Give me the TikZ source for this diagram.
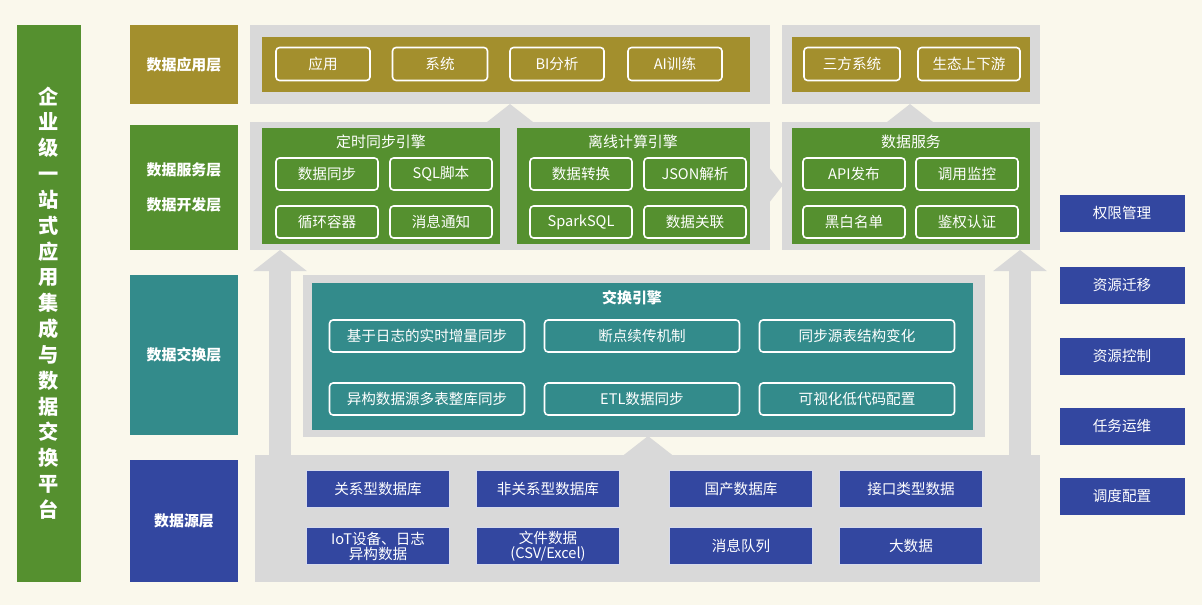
\documentclass[tikz,border=0pt]{standalone}
\usepackage{fontspec}
\setmainfont{Noto Sans CJK SC}
\usetikzlibrary{arrows.meta}
\definecolor{bgcream}{HTML}{FAF8EC}
\definecolor{lgreen}{HTML}{55902F}
\definecolor{lolive}{HTML}{A38F2D}
\definecolor{lteal}{HTML}{338B8B}
\definecolor{lblue}{HTML}{3347A0}
\definecolor{pgray}{HTML}{D9D9D9}
\tikzset{
  layer/.style={text=white, font=\bfseries\fontsize{8.5}{13}\selectfont, align=center, inner sep=0pt},
  item/.style={draw=white, rounded corners=2pt, line width=0.9pt, text=white,
    font=\fontsize{8.3}{9}\selectfont, inner sep=0pt, align=center},
  src/.style={fill=lblue, draw=white!80!lblue, line width=0.6pt, text=white,
    font=\fontsize{8.3}{8.5}\selectfont, inner sep=0pt, align=center},
  title/.style={text=white, font=\fontsize{8.5}{9}\selectfont, inner sep=0pt},
  bigarrow/.style={draw=pgray, line width=13pt, -{Triangle[width=30pt,length=12pt]}},
}
\begin{document}
\begin{tikzpicture}[x=0.02cm, y=-0.02cm]
\useasboundingbox (0,0) rectangle (1202,605);
\fill[bgcream] (0,0) rectangle (1202,605);
% left title bar
\fill[lgreen] (17,25) rectangle (81,582);
\node (platform) at (49,303) [text=white, font=\bfseries\fontsize{11.5}{14.7}\selectfont, align=center, inner sep=0pt]
  {企\\业\\级\\一\\站\\式\\应\\用\\集\\成\\与\\数\\据\\交\\换\\平\\台};
% layer labels
\fill[lolive] (130,25) rectangle (238,104);
\node (l-app) at (184,65) [layer] {数据应用层};
\fill[lgreen] (130,125) rectangle (238,250);
\node (l-svc) at (184,187) [layer] {数据服务层\\[7pt]数据开发层};
\fill[lteal] (130,275) rectangle (238,435);
\node (l-ex) at (184,355) [layer] {数据交换层};
\fill[lblue] (130,460) rectangle (238,582);
\node (l-src) at (184,521) [layer] {数据源层};
% arrows
\coordinate (a-src-l) at (280,460);
\coordinate (a-svc-l) at (280,250);
\coordinate (a-src-r) at (1020,460);
\coordinate (a-svc-r) at (1020,250);
\coordinate (a-src-c) at (648,460);
\coordinate (a-ex-c) at (648,436);
\coordinate (a-svc-c) at (510,124);
\coordinate (a-app-c) at (510,104);
\coordinate (a-svc-rr) at (910,124);
\coordinate (a-app-r) at (910,104);
\coordinate (a-mid-l) at (748,185);
\coordinate (a-mid-r) at (783,185);
\draw[bigarrow] (a-src-l) -- (a-svc-l);
\draw[bigarrow] (a-src-r) -- (a-svc-r);
\draw[bigarrow] (a-src-c) -- (a-ex-c);
\draw[bigarrow] (a-svc-c) -- (a-app-c);
\draw[bigarrow] (a-svc-rr) -- (a-app-r);
\draw[bigarrow] (a-mid-l) -- (a-mid-r);
% application layer
\fill[pgray] (250,25) rectangle (770,104);
\fill[lolive] (262,37) rectangle (750,92);
\fill[pgray] (782,25) rectangle (1040,104);
\fill[lolive] (792,37) rectangle (1030,92);
\foreach \name/\x/\w/\txt in {app1/323/94/应用, app2/440/95/系统, app3/557/94/BI分析, app4/675/94/AI训练,
    app5/852/96/三方系统, app6/969/102/生态上下游}
  \node (\name) at (\x,64) [item, minimum width=\w*0.02cm, minimum height=0.66cm] {\txt};
% service layer
\fill[pgray] (250,122) rectangle (770,250);
\fill[lgreen] (262,128) rectangle (500,244);
\fill[lgreen] (517,128) rectangle (750,244);
\fill[pgray] (782,122) rectangle (1040,250);
\fill[lgreen] (792,128) rectangle (1030,244);
\node (t-sync) at (381,142) [title] {定时同步引擎};
\node (t-off) at (633,142) [title] {离线计算引擎};
\node (t-data) at (911,142) [title] {数据服务};
\foreach \name/\x/\y/\txt in {s1/327/174/数据同步, s2/441/174/SQL脚本, s3/327/222/循环容器, s4/441/222/消息通知,
    s5/581/174/数据转换, s6/695/174/JSON解析, s7/581/222/SparkSQL, s8/695/222/数据关联,
    s9/854/174/API发布, s10/967/174/调用监控, s11/854/222/黑白名单, s12/967/222/鉴权认证}
  \node (\name) at (\x,\y) [item, minimum width=2.04cm, minimum height=0.64cm] {\txt};
% exchange layer
\fill[pgray] (303,275) rectangle (985,437);
\fill[lteal] (312,283) rectangle (973,430);
\node (t-ex) at (632,298) [title, font=\bfseries\fontsize{8.5}{9}\selectfont] {交换引擎};
\foreach \name/\x/\y/\txt in {e1/427/336/基于日志的实时增量同步, e2/642/336/断点续传机制, e3/857/336/同步源表结构变化,
    e4/427/399/异构数据源多表整库同步, e5/642/399/ETL数据同步, e6/857/399/可视化低代码配置}
  \node (\name) at (\x,\y) [item, minimum width=3.9cm, minimum height=0.64cm] {\txt};
% source layer
\fill[pgray] (255,455) rectangle (1040,582);
\foreach \name/\x/\y/\txt in {d1/378/489/关系型数据库, d2/548/489/非关系型数据库, d3/741/489/国产数据库, d4/911/489/接口类型数据,
    d5/378/546/{IoT设备、日志\\异构数据}, d6/548/546/{文件数据\\(CSV/Excel)}, d7/741/546/消息队列, d8/911/546/大数据}
  \node (\name) at (\x,\y) [src, minimum width=2.86cm, minimum height=0.74cm] {\txt};
% right side
\foreach \name/\y/\txt in {r1/213/权限管理, r2/285/资源迁移, r3/356/资源控制, r4/426/任务运维, r5/496/调度配置}
  \node (\name) at (1122,\y) [src, draw=none, minimum width=2.5cm, minimum height=0.74cm] {\txt};
\end{tikzpicture}
\end{document}
